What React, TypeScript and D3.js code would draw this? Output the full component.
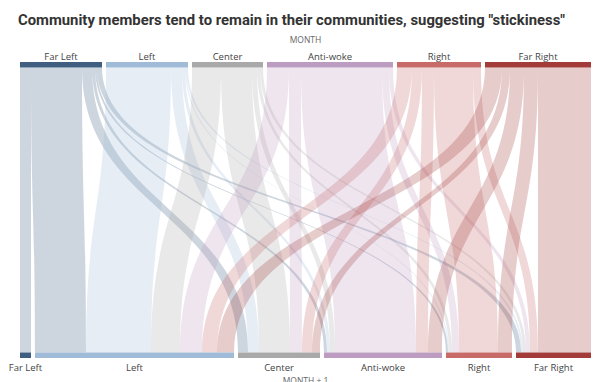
import React from "react";
import * as d3 from "d3";

const categories = ["Far Left", "Left", "Center", "Anti-woke", "Right", "Far Right"];
const colors = ["#3f5e80", "#a0bbd7", "#a9a9a9", "#bc9cc0", "#c76a68", "#a23b3a"];

// flows: row = community in MONTH, column = community in MONTH + 1
const fromFarLeft = [11, 51, 10, 3, 2, 5];
const fromLeft = [0, 65, 11, 3, 1, 2];
const fromCenter = [0, 29, 31, 5, 3, 3];
const fromAntiWoke = [0, 22, 12, 81, 7, 4];
const fromRight = [0, 15, 10, 12, 39, 8];
const fromFarRight = [0, 17, 8, 14, 14, 53];

const flows = [fromFarLeft, fromLeft, fromCenter, fromAntiWoke, fromRight, fromFarRight];

const title = 'Community members tend to remain in their communities, suggesting "stickiness"';

const W = 600;
const H = 382;
const left = 20;
const right = 591;
const gap = 4;
const topBarY = 62;
const barH = 5.5;
const botBarY = 352.5;

export default function App() {
  const n = categories.length;
  const outTotals = flows.map((r) => d3.sum(r));
  const inTotals = categories.map((_, j) => d3.sum(flows, (r) => r[j]));
  const total = d3.sum(outTotals);
  const scale = d3.scaleLinear().domain([0, total]).range([0, right - left - gap * (n - 1)]);

  const topX: number[] = [];
  const botX: number[] = [];
  let tx = left;
  let bx = left;
  for (let i = 0; i < n; i++) {
    topX.push(tx);
    tx += scale(outTotals[i]) + gap;
    botX.push(bx);
    bx += scale(inTotals[i]) + gap;
  }

  const tgtStart: number[][] = categories.map(() => []);
  for (let j = 0; j < n; j++) {
    let o = botX[j];
    for (let i = 0; i < n; i++) {
      tgtStart[i][j] = o;
      o += scale(flows[i][j]);
    }
  }
  const links: { s: number; t: number; x0: number; x1: number; u0: number; u1: number }[] = [];
  for (let i = 0; i < n; i++) {
    let o = topX[i];
    for (let j = 0; j < n; j++) {
      const w = scale(flows[i][j]);
      if (w > 0) {
        links.push({ s: i, t: j, x0: o, x1: o + w, u0: tgtStart[i][j], u1: tgtStart[i][j] + w });
      }
      o += w;
    }
  }

  const y0 = topBarY + barH;
  const y1 = botBarY;
  const ym = (y0 + y1) / 2;
  const ribbon = (l: (typeof links)[number]) => {
    const p = d3.path();
    p.moveTo(l.x0, y0);
    p.bezierCurveTo(l.x0, ym, l.u0, ym, l.u0, y1);
    p.lineTo(l.u1, y1);
    p.bezierCurveTo(l.u1, ym, l.x1, ym, l.x1, y0);
    p.closePath();
    return p.toString();
  };

  const font = "'Open Sans', 'Noto Sans', sans-serif";

  return (
    <svg width={W} height={H} style={{ position: "absolute", left: 0, top: 0, background: "#fff" }}>
      <text x={18} y={25} fontFamily="Roboto, 'Open Sans', sans-serif" fontWeight={700} fontSize={14.5} fill="#333"
        textLength={547} lengthAdjust="spacingAndGlyphs">
        {title}
      </text>
      <text x={(left + right) / 2} y={43} textAnchor="middle" fontFamily={font} fontSize={8.5} fill="#666">
        MONTH
      </text>
      <g>
        {links.map((l, k) => (
          <path key={k} d={ribbon(l)} fill={colors[l.s]} fillOpacity={0.26} />
        ))}
      </g>
      <g>
        {categories.map((c, i) => (
          <g key={"t" + c}>
            <rect x={topX[i]} y={topBarY} width={scale(outTotals[i])} height={barH} fill={colors[i]} />
            <text x={topX[i] + scale(outTotals[i]) / 2} y={59.5} textAnchor="middle" fontFamily={font}
              fontSize={9.5} fill="#444">
              {c}
            </text>
          </g>
        ))}
        {categories.map((c, i) => (
          <g key={"b" + c}>
            <rect x={botX[i]} y={botBarY} width={scale(inTotals[i])} height={barH} fill={colors[i]} />
            <text x={botX[i] + scale(inTotals[i]) / 2} y={371} textAnchor="middle" fontFamily={font}
              fontSize={9.5} fill="#444">
              {c}
            </text>
          </g>
        ))}
      </g>
      <text x={(left + right) / 2} y={383.5} textAnchor="middle" fontFamily={font} fontSize={8.5} fill="#666">
        MONTH + 1
      </text>
    </svg>
  );
}
